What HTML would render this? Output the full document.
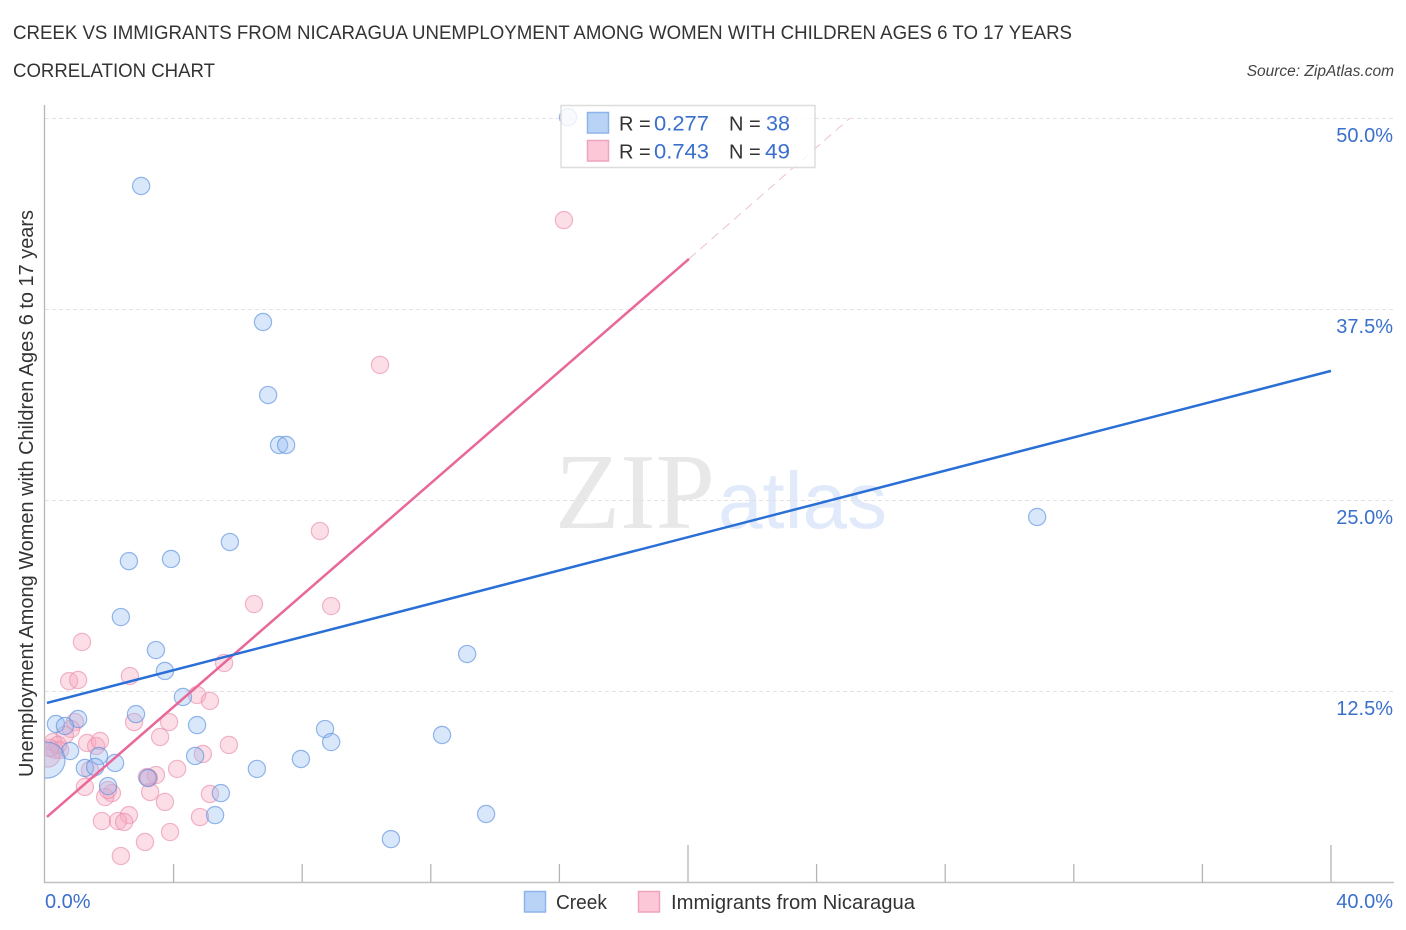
<!DOCTYPE html>
<html>
<head>
<meta charset="utf-8">
<style>
html,body{margin:0;padding:0;background:#fff;}
svg{display:block;font-family:"Liberation Sans",sans-serif;}
</style>
</head>
<body>
<svg id="chart" xmlns="http://www.w3.org/2000/svg" width="1406" height="930" viewBox="0 0 1406 930">
  <defs>
    <clipPath id="plot-clip"><rect x="45" y="100" width="1349" height="782"/></clipPath>
  </defs>
  <text x="13" y="39" font-size="19" fill="#333" textLength="1059" lengthAdjust="spacingAndGlyphs">CREEK VS IMMIGRANTS FROM NICARAGUA UNEMPLOYMENT AMONG WOMEN WITH CHILDREN AGES 6 TO 17 YEARS</text>
  <text x="13" y="77" font-size="19" fill="#333" textLength="202" lengthAdjust="spacingAndGlyphs">CORRELATION CHART</text>
  <text x="1394" y="76" font-size="15.5" font-style="italic" fill="#444" text-anchor="end">Source: ZipAtlas.com</text>
  <g>
    <text x="555" y="528" font-family="'Liberation Serif',serif" font-size="108" fill="#e8e8e8" textLength="160" lengthAdjust="spacingAndGlyphs">ZIP</text>
    <text x="718" y="528" font-family="'Liberation Sans',sans-serif" font-size="80" fill="#e0eafa" textLength="169" lengthAdjust="spacingAndGlyphs">atlas</text>
  </g>
  <g id="grid"></g>
  <g id="axes"></g>
  <g id="pink-points" clip-path="url(#plot-clip)"></g>
  <g id="blue-points" clip-path="url(#plot-clip)"></g>
  <g id="lines"></g>
  <text transform="translate(33,777) rotate(-90)" font-size="20" fill="#333" textLength="567" lengthAdjust="spacingAndGlyphs">Unemployment Among Women with Children Ages 6 to 17 years</text>
  <g>
    <rect x="561" y="105.500" width="254" height="62" fill="#fff" fill-opacity="0.8" stroke="#ddd" stroke-width="1.500"/>
    <rect x="587.500" y="112.500" width="21" height="20.500" fill="#b9d3f7" stroke="#8db4ea" stroke-width="1.500"/>
    <rect x="587.500" y="140.500" width="21" height="20.500" fill="#fcc8d8" stroke="#f0a3bc" stroke-width="1.500"/>
    <text x="619" y="130.500" font-size="20" fill="#333">R =</text>
    <text x="654" y="130.500" font-size="21" fill="#3a70cc" textLength="55" lengthAdjust="spacingAndGlyphs">0.277</text>
    <text x="729" y="130.500" font-size="20" fill="#333">N =</text>
    <text x="766" y="130.500" font-size="21" fill="#3a70cc" textLength="24" lengthAdjust="spacingAndGlyphs">38</text>
    <text x="619" y="158.500" font-size="20" fill="#333">R =</text>
    <text x="654" y="158.500" font-size="21" fill="#3a70cc" textLength="55" lengthAdjust="spacingAndGlyphs">0.743</text>
    <text x="729" y="158.500" font-size="20" fill="#333">N =</text>
    <text x="765" y="158.500" font-size="21" fill="#3a70cc" textLength="25" lengthAdjust="spacingAndGlyphs">49</text>
  </g>
  <g>
    <rect x="524.500" y="891.500" width="21" height="20.500" fill="#b9d3f7" stroke="#8db4ea" stroke-width="1.500"/>
    <text x="556" y="909" font-size="20" fill="#333" textLength="51" lengthAdjust="spacingAndGlyphs">Creek</text>
    <rect x="638.500" y="891.500" width="21" height="20.500" fill="#fcc8d8" stroke="#f0a3bc" stroke-width="1.500"/>
    <text x="671" y="909" font-size="20" fill="#333" textLength="244" lengthAdjust="spacingAndGlyphs">Immigrants from Nicaragua</text>
  </g>
</svg>
<script>
var yTickValues = [12.5, 25, 37.5, 50];
var yTickLabels = ["12.5%", "25.0%", "37.5%", "50.0%"];
var xTickValues = [0, 4, 8, 12, 16, 20, 24, 28, 32, 36, 40];
var xTickMajor = [20, 40];
var xEndLabels = ["0.0%", "40.0%"];

var creekX = [16.27,2.99,6.78,6.94,7.28,7.50,30.86,2.61,3.92,5.75,2.36,3.45,13.13,3.73,4.29,2.83,1.03,0.34,0.62,4.73,8.71,8.90,12.35,0.78,1.68,4.67,7.96,6.59,2.18,1.24,1.56,1.96,5.47,5.29,13.72,10.76,3.20,0.06];
var creekY = [50.05,45.55,36.65,31.87,28.60,28.60,23.89,21.00,21.14,22.25,17.34,15.18,14.92,13.81,12.11,10.99,10.67,10.34,10.21,10.27,10.01,9.16,9.62,8.57,8.25,8.25,8.05,7.40,7.79,7.46,7.53,6.28,5.82,4.38,4.45,2.81,6.81,7.98];
var creekSize = [1,1,1,1,1,1,1,1,1,1,1,1,1,1,1,1,1,1,1,1,1,1,1,1,1,1,1,1,1,1,1,1,1,1,1,1,1,2.1];

var nicaraguaX = [16.14,10.42,8.55,6.50,8.90,1.15,0.75,1.03,2.64,5.57,4.73,5.13,3.86,2.77,0.93,0.81,0.62,3.58,5.72,4.91,1.31,1.59,1.71,0.31,0.25,0.47,0.09,4.11,3.45,3.23,3.27,3.73,1.24,2.08,1.87,5.13,4.82,2.61,1.77,2.27,2.46,3.89,3.11,2.36,1.40,1.96,3.17,0.40,0.16];
var nicaraguaY = [43.32,33.84,22.97,18.19,18.06,15.71,13.15,13.22,13.48,14.33,12.24,11.85,10.47,10.47,10.47,10.01,9.62,9.49,8.97,8.38,9.10,8.90,9.23,8.64,9.16,8.64,8.31,7.40,7.00,6.81,5.89,5.24,6.22,5.82,5.56,5.76,4.25,4.38,3.99,3.99,3.93,3.27,2.62,1.70,7.33,6.02,6.87,8.97,8.77];
var nicaraguaSize = [1,1,1,1,1,1,1,1,1,1,1,1,1,1,1,1,1,1,1,1,1,1,1,1,1,1,1.4,1,1,1,1,1,1,1,1,1,1,1,1,1,1,1,1,1,1,1,1,1,1];

var creekTrendX = [0.06, 40];
var creekTrendY = [11.72, 33.45];
var nicaraguaTrendX = [0.06, 20.03];
var nicaraguaTrendY = [4.26, 40.78];
var nicaraguaDashX = [20.03, 25.04];
var nicaraguaDashY = [40.78, 50];

function xScale(v){ return 45 + v * 32.15; }
function yScale(v){ return 882 - v * 15.28; }

var NS = "http://www.w3.org/2000/svg";
function make(tag, parent, attrs, text){
  var el = document.createElementNS(NS, tag);
  for (var k in attrs) el.setAttribute(k, attrs[k]);
  if (text !== undefined) el.textContent = text;
  parent.appendChild(el);
  return el;
}

var grid = document.getElementById("grid");
var axes = document.getElementById("axes");
yTickValues.forEach(function(v, i){
  var gy = Math.round(yScale(v)) + 0.5;
  var g = make("line", grid, {x1:45, x2:1394, y1:gy, y2:gy, stroke:"#e2e2e2", "stroke-width":1, "stroke-dasharray":"4 3"});
  
  
  var t = make("text", axes, {x:1393, y:yScale(v)+24, "font-size":20, fill:"#3a70cc", "text-anchor":"end"}, yTickLabels[i]);
  
  
});

var yAxis = make("line", axes, {x1:44.500, x2:44.500, y1:105, y2:883, stroke:"#b5b5b5", "stroke-width":1.300});


var xAxis = make("line", axes, {x1:44, x2:1394, y1:882.500, y2:882.500, stroke:"#c0c0c0", "stroke-width":1.500});



xTickValues.forEach(function(v){
  if (v === 0) return;
  var major = xTickMajor.indexOf(v) >= 0;
  var tick = make("line", axes, {x1:xScale(v), x2:xScale(v), y1:major ? 845 : 864, y2:882, stroke:"#b5b5b5", "stroke-width":1.300});
  
  
});

var xl0 = make("text", axes, {x:45, y:908, "font-size":20, fill:"#3a70cc"}, xEndLabels[0]);


var xl1 = make("text", axes, {x:1393, y:908, "font-size":20, fill:"#3a70cc", "text-anchor":"end"}, xEndLabels[1]);



var pinkGroup = document.getElementById("pink-points");
nicaraguaX.forEach(function(v, i){
  var c = make("circle", pinkGroup, {cx:xScale(v), cy:yScale(nicaraguaY[i]), r:8.6*nicaraguaSize[i], fill:"#f7a8c0", "fill-opacity":0.38, stroke:"#ea8fae", "stroke-opacity":0.65, "stroke-width":1.200});
  
  
});

var blueGroup = document.getElementById("blue-points");
creekX.forEach(function(v, i){
  var c = make("circle", blueGroup, {cx:xScale(v), cy:yScale(creekY[i]), r:8.6*creekSize[i], fill:"#96bdf0", "fill-opacity":0.36, stroke:"#5c90de", "stroke-opacity":0.65, "stroke-width":1.200});
  
  
});

var lineGroup = document.getElementById("lines");
var dash = make("line", lineGroup, {x1:xScale(nicaraguaDashX[0]), y1:yScale(nicaraguaDashY[0]), x2:xScale(nicaraguaDashX[1]), y2:yScale(nicaraguaDashY[1]), stroke:"#ecc0d0", "stroke-width":1, "stroke-dasharray":"9 6"});


var pinkLine = make("line", lineGroup, {x1:xScale(nicaraguaTrendX[0]), y1:yScale(nicaraguaTrendY[0]), x2:xScale(nicaraguaTrendX[1]), y2:yScale(nicaraguaTrendY[1]), stroke:"#e8689a", "stroke-width":2.500});


var blueLine = make("line", lineGroup, {x1:xScale(creekTrendX[0]), y1:yScale(creekTrendY[0]), x2:xScale(creekTrendX[1]), y2:yScale(creekTrendY[1]), stroke:"#2a6fd6", "stroke-width":2.500});


</script>
</body>
</html>
